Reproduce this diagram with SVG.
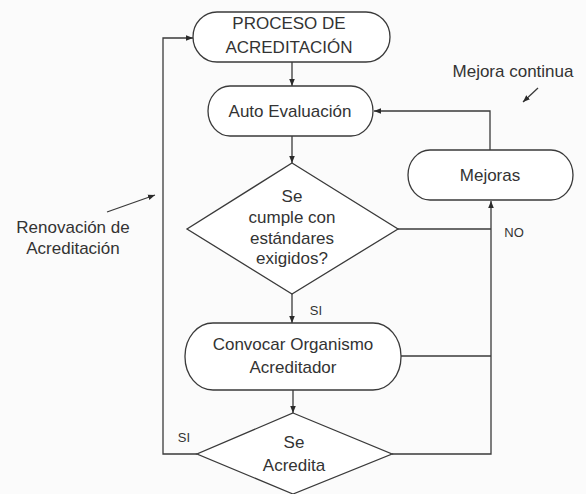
<svg xmlns="http://www.w3.org/2000/svg" width="586" height="494" viewBox="0 0 586 494">
<defs>
<style>
.n{fill:#ffffff;stroke:#3a3a3a;stroke-width:1.3}
.c{fill:none;stroke:#3a3a3a;stroke-width:1.3}
.t{font-family:"Liberation Sans",Arial,sans-serif;font-size:17px;fill:#333;text-anchor:middle}
.s{font-family:"Liberation Sans",Arial,sans-serif;font-size:13px;fill:#333;text-anchor:middle}
</style>
<marker id="ah" viewBox="0 0 10 10" refX="10" refY="5" markerWidth="7" markerHeight="7" orient="auto" markerUnits="userSpaceOnUse">
<path d="M0,1 L10,5 L0,9 z" fill="#2a2a2a"/>
</marker>
</defs>
<rect width="586" height="494" fill="#fbfbfb"/>
<g id="connectors">
<path class="c" d="M292,62 V86" marker-end="url(#ah)"/>
<path class="c" d="M292,136 V163" marker-end="url(#ah)"/>
<path class="c" d="M292,294 V323" marker-end="url(#ah)"/>
<path class="c" d="M293,390 V413" marker-end="url(#ah)"/>
<path class="c" d="M398,229 H491"/>
<path class="c" d="M401,356 H491"/>
<path class="c" d="M392,454 H491 V201" marker-end="url(#ah)"/>
<path class="c" d="M490,150 V111 H374" marker-end="url(#ah)"/>
<path class="c" d="M197,454 H163 V38 H193" marker-end="url(#ah)"/>
<path class="c" d="M107,212 L155,195" marker-end="url(#ah)"/>
<path class="c" d="M538,88 L523,102" marker-end="url(#ah)"/>
<text class="s" x="316" y="315">SI</text>
<text class="s" x="514" y="237">NO</text>
<text class="s" x="184" y="442">SI</text>
</g>
<g id="proceso">
<rect class="n" x="193" y="12" width="197" height="50" rx="24" ry="25"/>
<text class="t" x="289" y="29">PROCESO DE</text>
<text class="t" x="289" y="53">ACREDITACIÓN</text>
</g>
<g id="auto">
<rect class="n" x="208" y="86" width="165" height="50" rx="22" ry="25"/>
<text class="t" x="290" y="117">Auto Evaluación</text>
</g>
<g id="cumple">
<path class="n" d="M292,163 L398,229 L292,294 L187,229 Z"/>
<text class="t" x="292" y="202">Se</text>
<text class="t" x="292" y="223">cumple con</text>
<text class="t" x="292" y="244">estándares</text>
<text class="t" x="292" y="264">exigidos?</text>
</g>
<g id="mejoras">
<rect class="n" x="408" y="150" width="165" height="50" rx="22" ry="25"/>
<text class="t" x="490" y="181">Mejoras</text>
</g>
<g id="convocar">
<rect class="n" x="185" y="323" width="216" height="67" rx="28" ry="33"/>
<text class="t" x="293" y="350">Convocar Organismo</text>
<text class="t" x="293" y="373">Acreditador</text>
</g>
<g id="acredita">
<path class="n" d="M293,413 L392,454 L293,494 L197,454 Z"/>
<text class="t" x="294" y="448">Se</text>
<text class="t" x="294" y="471">Acredita</text>
</g>
<g id="labels">
<text class="t" x="513" y="77">Mejora continua</text>
<text class="t" x="73" y="233">Renovación de</text>
<text class="t" x="73" y="254">Acreditación</text>
</g>
</svg>
